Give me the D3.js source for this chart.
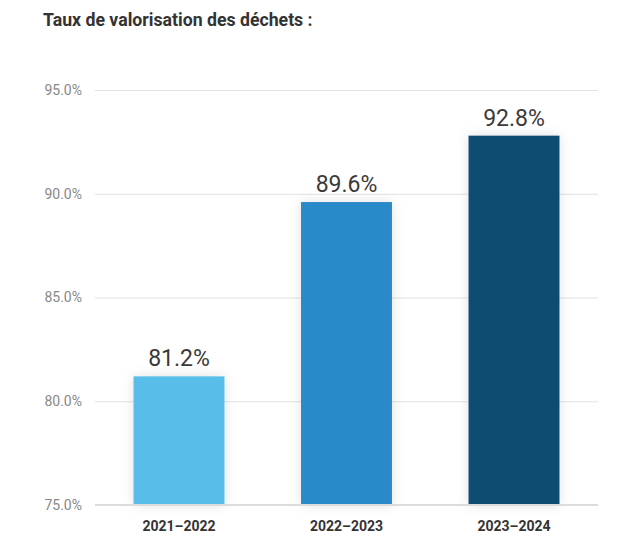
<!DOCTYPE html>
<html>
<head>
<meta charset="utf-8">
<script src="https://cdn.jsdelivr.net/npm/d3@7"></script>
<style>
  body { margin: 0; background: #fff; }
  text { font-family: Roboto, "Open Sans", sans-serif; }
</style>
</head>
<body>
<div id="chart"></div>
<script>
// data
var years = ["2021\u20132022", "2022\u20132023", "2023\u20132024"];
var rates = [81.2, 89.6, 92.8];
var barColors = ["#58bde9", "#2a8ac9", "#114d71"];
var yTicks = [75, 80, 85, 90, 95];

var svgWidth = 625;
var svgHeight = 548;

var margin = { top: 90, right: 27, bottom: 43, left: 95 };
var width = svgWidth - margin.left - margin.right;
var height = svgHeight - margin.top - margin.bottom;

var svg = d3.select("#chart")
  .append("svg")
  .attr("width", svgWidth)
  .attr("height", svgHeight);

var defs = svg.append("defs");
var shadow = defs.append("filter")
  .attr("id", "barShadow")
  .attr("x", "-30%").attr("y", "-30%")
  .attr("width", "160%").attr("height", "160%");
shadow.append("feDropShadow")
  .attr("dx", 0).attr("dy", 0)
  .attr("stdDeviation", 6)
  .attr("flood-color", "#000")
  .attr("flood-opacity", 0.12);

svg.append("text")
  .attr("x", 43)
  .attr("y", 26)
  .attr("fill", "#333")
  .style("font-size", "17.7px")
  .style("font-weight", "bold")
  .text("Taux de valorisation des déchets :");

var g = svg.append("g")
  .attr("transform", `translate(${margin.left}, ${margin.top})`);

var xScale = d3.scaleBand()
  .domain(years)
  .range([0, width])
  .paddingInner(0.457)
  .paddingOuter(0.23);

var yScale = d3.scaleLinear()
  .domain([75, 95])
  .range([height, 0]);

// grid lines
var yAxis = d3.axisLeft(yScale)
  .tickValues(yTicks)
  .tickSize(-width)
  .tickPadding(13)
  .tickFormat(d => d.toFixed(1) + "%");

var yAxisG = g.append("g").call(yAxis);
yAxisG.select(".domain").remove();
yAxisG.selectAll(".tick line")
  .attr("stroke", "#e2e2e2")
  .attr("stroke-width", 1);
yAxisG.selectAll(".tick text")
  .attr("fill", "#888")
  .style("font-size", "14px");

// bars
g.selectAll("rect.bar")
  .data(rates)
  .enter()
  .append("rect")
  .attr("class", "bar")
  .attr("x", (d, i) => xScale(years[i]))
  .attr("y", d => yScale(d))
  .attr("width", xScale.bandwidth())
  .attr("height", d => height - yScale(d))
  .attr("fill", (d, i) => barColors[i])
  .attr("filter", "url(#barShadow)");

// baseline
g.append("line")
  .attr("x1", 0)
  .attr("x2", width)
  .attr("y1", yScale(75))
  .attr("y2", yScale(75))
  .attr("stroke", "#dcdcdc")
  .attr("stroke-width", 2);

// value labels
g.selectAll("text.value")
  .data(rates)
  .enter()
  .append("text")
  .attr("class", "value")
  .attr("x", (d, i) => xScale(years[i]) + xScale.bandwidth() / 2)
  .attr("y", d => yScale(d) - 10)
  .attr("text-anchor", "middle")
  .attr("fill", "#3a3a3a")
  .style("font-size", "23px")
  .text(d => d.toFixed(1) + "%");

// x axis
var xAxis = d3.axisBottom(xScale)
  .tickSize(0)
  .tickPadding(16);

var xAxisG = g.append("g")
  .attr("transform", `translate(0,${height})`)
  .call(xAxis);
xAxisG.select(".domain").remove();
xAxisG.selectAll(".tick text")
  .attr("fill", "#333")
  .style("font-size", "14px")
  .style("font-weight", "bold");
</script>
</body>
</html>
